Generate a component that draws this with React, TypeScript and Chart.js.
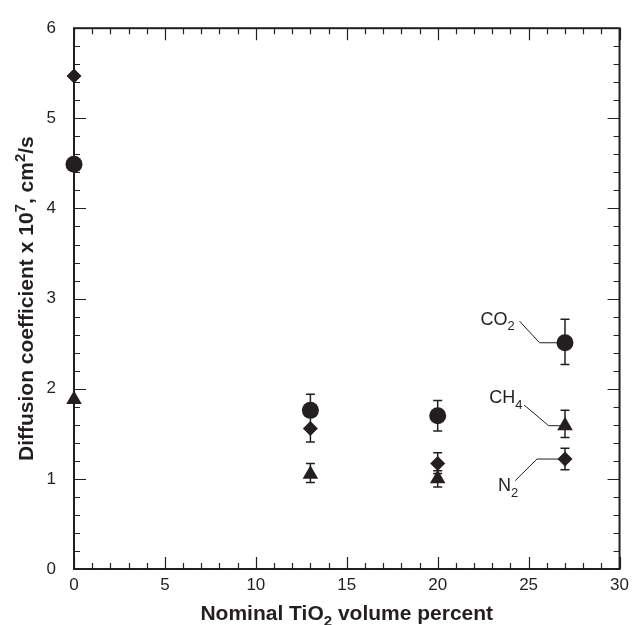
import React, { useEffect, useRef } from "react";
import { Chart, registerables } from "chart.js";

Chart.register(...registerables);

// ---- data ----
const xValues = [0, 13, 20, 27];

const co2Values = [4.49, 1.76, 1.70, 2.51];
const co2Hi = [null, 1.94, 1.87, 2.77];
const co2Lo = [null, 1.58, 1.53, 2.27];

const n2Values = [5.47, 1.56, 1.17, 1.22];
const n2Hi = [null, 1.71, 1.29, 1.34];
const n2Lo = [null, 1.41, 1.06, 1.10];

const ch4Values = [1.88, 1.05, 1.0, 1.59];
const ch4Hi = [null, 1.17, 1.09, 1.76];
const ch4Lo = [null, 0.96, 0.91, 1.46];

// leader lines for the gas labels (data coordinates)
const co2LeaderX = [24.5, 25.6, 27];
const co2LeaderY = [2.75, 2.51, 2.51];
const ch4LeaderX = [24.75, 26.1, 27];
const ch4LeaderY = [1.82, 1.59, 1.59];
const n2LeaderX = [24.26, 25.46, 27];
const n2LeaderY = [0.98, 1.22, 1.22];

// gas labels: [main text, subscript, x, baseline y]
const gasLabels: [string, string, number, number][] = [
  ["CO", "2", 22.35, 2.71],
  ["CH", "4", 22.83, 1.84],
  ["N", "2", 23.32, 0.86],
];

const xTitleParts: [string, string][] = [
  ["Nominal TiO", "n"],
  ["2", "sub"],
  [" volume percent", "n"],
];
const yTitleParts: [string, string][] = [
  ["Diffusion coefficient x 10", "n"],
  ["7", "sup"],
  [", cm", "n"],
  ["2", "sup"],
  ["/s", "n"],
];

const INK = "#231f20";
const FONT = "'Liberation Sans', Arial, Helvetica, sans-serif";

function pts(xs: number[], ys: number[]) {
  return xs.map((x, i) => ({ x, y: ys[i] }));
}

function drawRich(
  ctx: CanvasRenderingContext2D,
  parts: [string, string][],
  x: number,
  y: number,
  size: number,
  bold: boolean,
  align: "left" | "center"
) {
  const w = bold ? "bold " : "";
  const small = Math.round(size * 0.72);
  let total = 0;
  for (const [t, s] of parts) {
    ctx.font = `${w}${s === "n" ? size : small}px ${FONT}`;
    total += ctx.measureText(t).width;
  }
  let cx = align === "center" ? x - total / 2 : x;
  ctx.textAlign = "left";
  ctx.textBaseline = "alphabetic";
  for (const [t, s] of parts) {
    ctx.font = `${w}${s === "n" ? size : small}px ${FONT}`;
    let dy = 0;
    if (s === "sub") dy = size * 0.3;
    if (s === "sup") dy = -size * 0.4;
    ctx.fillText(t, cx, y + dy);
    cx += ctx.measureText(t).width;
  }
}

const decorPlugin = {
  id: "decor",
  beforeDatasetsDraw(chart: any) {
    const { ctx, chartArea: a, scales } = chart;
    const xs = scales.x;
    const ys = scales.y;
    ctx.save();
    ctx.strokeStyle = INK;
    // frame
    ctx.lineWidth = 2;
    ctx.strokeRect(a.left, a.top, a.right - a.left, a.bottom - a.top);
    // ticks
    ctx.lineWidth = 1.2;
    ctx.beginPath();
    for (let v = 0; v <= 30; v += 1) {
      const px = Math.round(xs.getPixelForValue(v)) + 0.5;
      const len = v % 5 === 0 ? 12 : 6;
      ctx.moveTo(px, a.bottom);
      ctx.lineTo(px, a.bottom - len);
      ctx.moveTo(px, a.top);
      ctx.lineTo(px, a.top + len);
    }
    for (let i = 0; i <= 30; i += 1) {
      const v = i * 0.2;
      const py = Math.round(ys.getPixelForValue(v)) + 0.5;
      const len = i % 5 === 0 ? 12 : 6;
      ctx.moveTo(a.left, py);
      ctx.lineTo(a.left + len, py);
      ctx.moveTo(a.right, py);
      ctx.lineTo(a.right - len, py);
    }
    ctx.stroke();
    // error bars
    const sets: [(number | null)[], (number | null)[]][] = [
      [co2Lo, co2Hi],
      [n2Lo, n2Hi],
      [ch4Lo, ch4Hi],
    ];
    ctx.lineWidth = 1.5;
    ctx.beginPath();
    for (const [lo, hi] of sets) {
      xValues.forEach((xv, i) => {
        const l = lo[i];
        const h = hi[i];
        if (l == null || h == null) return;
        const px = xs.getPixelForValue(xv);
        const pl = ys.getPixelForValue(l);
        const ph = ys.getPixelForValue(h);
        ctx.moveTo(px, pl);
        ctx.lineTo(px, ph);
        ctx.moveTo(px - 4.5, pl);
        ctx.lineTo(px + 4.5, pl);
        ctx.moveTo(px - 4.5, ph);
        ctx.lineTo(px + 4.5, ph);
      });
    }
    ctx.stroke();
    ctx.restore();
  },
  afterDraw(chart: any) {
    const { ctx, chartArea: a, scales } = chart;
    const xs = scales.x;
    const ys = scales.y;
    ctx.save();
    ctx.fillStyle = INK;
    for (const [t, sub, x, y] of gasLabels) {
      drawRich(
        ctx,
        [
          [t, "n"],
          [sub, "sub"],
        ],
        xs.getPixelForValue(x),
        ys.getPixelForValue(y),
        18,
        false,
        "left"
      );
    }
    // x title
    drawRich(ctx, xTitleParts, (a.left + a.right) / 2, 620, 21, true, "center");
    // y title
    ctx.translate(33, (a.top + a.bottom) / 2);
    ctx.rotate(-Math.PI / 2);
    drawRich(ctx, yTitleParts, 0, 0, 21, true, "center");
    ctx.restore();
  },
};

export default function App() {
  const ref = useRef<HTMLCanvasElement | null>(null);
  useEffect(() => {
    if (!ref.current) return;
    const marker = (label: string, data: number[], style: string, r: number) => ({
      label,
      data: pts(xValues, data),
      pointStyle: style,
      pointRadius: r,
      backgroundColor: INK,
      borderColor: INK,
      borderWidth: 0,
      clip: false,
      order: 1,
    });
    const leader = (label: string, xs: number[], ys: number[]) => ({
      label,
      data: pts(xs, ys),
      showLine: true,
      pointRadius: 0,
      borderColor: INK,
      borderWidth: 1,
      clip: false,
      order: 2,
    });
    const chart = new Chart(ref.current, {
      type: "scatter",
      data: {
        datasets: [
          marker("CO2", co2Values, "circle", 8.5),
          marker("N2", n2Values, "rectRot", 7.5),
          marker("CH4", ch4Values, "triangle", 9),
          leader("co2 leader", co2LeaderX, co2LeaderY),
          leader("ch4 leader", ch4LeaderX, ch4LeaderY),
          leader("n2 leader", n2LeaderX, n2LeaderY),
        ],
      },
      options: {
        responsive: false,
        animation: false,
        layout: { padding: { left: 0, top: 19, right: 12, bottom: 0 } },
        plugins: { legend: { display: false }, tooltip: { enabled: false } },
        scales: {
          x: {
            type: "linear",
            min: 0,
            max: 30,
            grid: { display: false, drawTicks: false },
            border: { display: false },
            ticks: {
              stepSize: 5,
              padding: 6,
              color: INK,
              font: { family: FONT, size: 17 },
              maxRotation: 0,
            },
            afterFit(s: any) {
              s.height = 56;
            },
          },
          y: {
            type: "linear",
            min: 0,
            max: 6,
            grid: { display: false, drawTicks: false },
            border: { display: false },
            ticks: {
              stepSize: 1,
              padding: 18,
              color: INK,
              font: { family: FONT, size: 17 },
            },
            afterFit(s: any) {
              s.width = 74;
            },
          },
        },
      },
      plugins: [decorPlugin],
    } as any);
    return () => chart.destroy();
  }, []);
  return (
    <div style={{ position: "fixed", left: 0, top: 0, width: 635, height: 625, background: "#fff" }}>
      <canvas ref={ref} width={635} height={625} style={{ display: "block" }} />
    </div>
  );
}
